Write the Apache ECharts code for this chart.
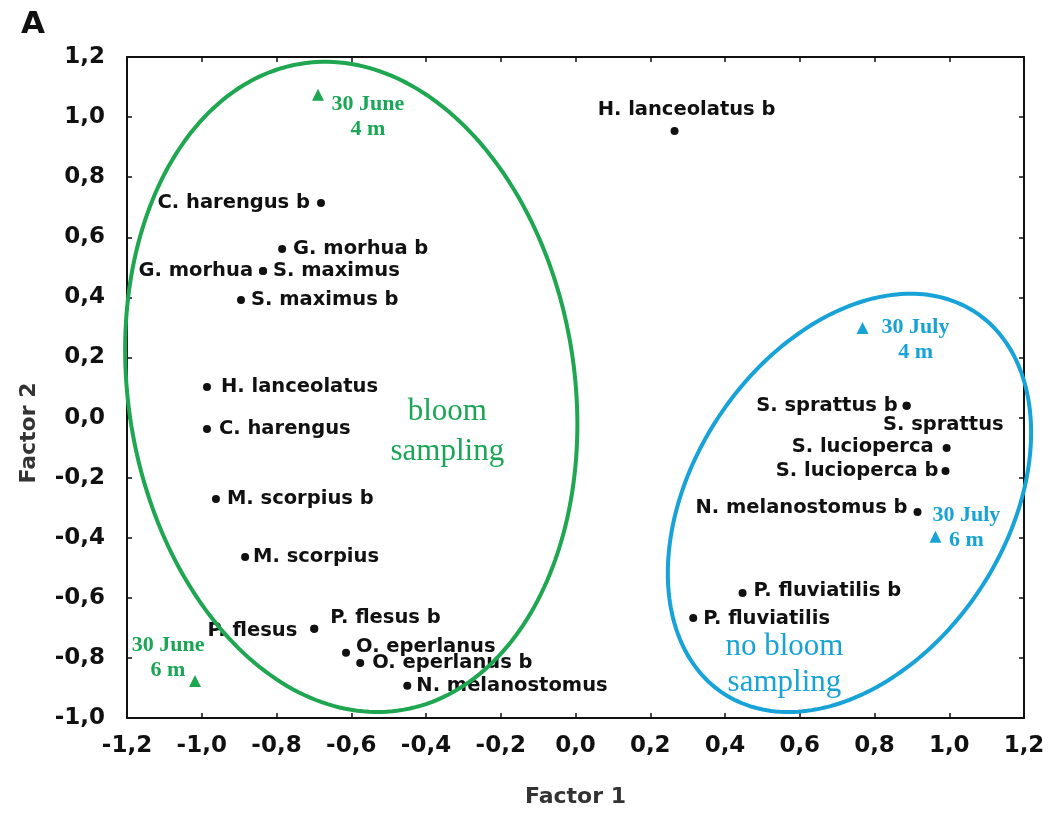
<!DOCTYPE html>
<html><head><meta charset="utf-8">
<script src="https://cdn.jsdelivr.net/npm/echarts@6/dist/echarts.min.js"></script>
<style>html,body{margin:0;padding:0;background:#fff}#c{width:1061px;height:814px}</style>
</head><body><div id="c"></div>
<script>
// ---- data ----
const speciesNames = ['H. lanceolatus b','C. harengus b','G. morhua b','G. morhua','S. maximus','S. maximus b',
  'H. lanceolatus','C. harengus','M. scorpius b','M. scorpius','P. flesus','P. flesus b','O. eperlanus',
  'O. eperlanus b','N. melanostomus','S. sprattus b','S. sprattus','S. lucioperca','S. lucioperca b',
  'N. melanostomus b','P. fluviatilis b','P. fluviatilis'];
const speciesF1 = [0.265,-0.681,-0.785,-0.836,-0.836,-0.895,-0.986,-0.986,-0.962,-0.884,-0.699,-0.699,-0.614,
  -0.576,-0.450,0.886,0.886,0.993,0.990,0.915,0.447,0.315];
const speciesF2 = [0.954,0.714,0.561,0.488,0.488,0.391,0.102,-0.038,-0.271,-0.464,-0.703,-0.703,-0.783,
  -0.817,-0.893,0.039,0.039,-0.101,-0.178,-0.314,-0.584,-0.667];

const sampleNames = ['30 June\n4 m','30 June\n6 m','30 July\n4 m','30 July\n6 m'];
const sampleF1 = [-0.689,-1.018,0.768,0.963];
const sampleF2 = [1.074,-0.877,0.298,-0.397];
const sampleGroup = [0,0,1,1];

const groupNames = ['bloom\nsampling','no bloom\nsampling'];
const groupLabelF1 = [-0.343,0.559];
const groupLabelF2 = [-0.048,-0.823];
const ellipseCenterF1 = [-0.600,0.733];
const ellipseCenterF2 = [0.102,-0.284];
const ellipseHalfWidth = [0.605,0.486];
const ellipseHalfHeight = [1.082,0.696];
const ellipseTilt = [-0.115,0.336];

const xMin = -1.2, xMax = 1.2, yMin = -1.0, yMax = 1.2, tickStep = 0.2;

// ---- styles ----
const groupColors = ['#1ea650','#17a2d8'];
const groupTextColors = ['#1ba556','#18a3d6'];
const SANS = 'DejaVu Sans';
const SERIF = 'Liberation Serif';
// [align, dx, dy] relative to dot centre (pixels)
const labelLayout = {
  'H. lanceolatus b':['center',12,-21],
  'C. harengus b':['right',-11,0],
  'G. morhua b':['left',11,0],
  'G. morhua':['right',-10,0],
  'S. maximus':['left',10,0],
  'S. maximus b':['left',10,0],
  'H. lanceolatus':['left',14,0],
  'C. harengus':['left',12,0],
  'M. scorpius b':['left',11,0],
  'M. scorpius':['left',8,0],
  'P. flesus':['right',-17,2],
  'P. flesus b':['left',16,-11],
  'O. eperlanus':['left',10,-6],
  'O. eperlanus b':['left',12,0],
  'N. melanostomus':['left',9,0],
  'S. sprattus b':['right',-9,0],
  'S. sprattus':['right',97,19],
  'S. lucioperca':['right',-13,-1],
  'S. lucioperca b':['right',-7,0],
  'N. melanostomus b':['right',-10,-4],
  'P. fluviatilis b':['left',11,-2],
  'P. fluviatilis':['left',10,1]
};
const sampleLabelOffset = [[50,22],[-27,-23],[53,12],[31,-9]];

const fmt = v => (Math.abs(v) < 1e-9 ? 0 : v).toFixed(1).replace('.', ',');

const speciesData = speciesNames.map((n,i) => {
  const L = labelLayout[n];
  return {name:n, value:[speciesF1[i],speciesF2[i]],
    label:{show:true, position:'inside', align:L[0], verticalAlign:'middle', offset:[L[1],L[2]],
      formatter:'{b}', color:'#111', fontFamily:SANS, fontWeight:'bold', fontSize:19.5}};
});
const sampleData = sampleNames.map((n,i) => ({name:n, value:[sampleF1[i],sampleF2[i]],
  itemStyle:{color:groupColors[sampleGroup[i]], opacity:1},
  label:{show:true, position:'inside', align:'center', verticalAlign:'middle', offset:sampleLabelOffset[i],
    formatter:'{b}', color:groupTextColors[sampleGroup[i]], fontFamily:SERIF, fontWeight:'bold', fontSize:22, lineHeight:25}}));
const groupData = groupNames.map((n,i) => ({name:n, value:[groupLabelF1[i],groupLabelF2[i]],
  label:{show:true, position:'inside', align:'center', verticalAlign:'middle',
    formatter:'{b}', color:groupTextColors[i], fontFamily:SERIF, fontSize:31, lineHeight:i===0?40:36}}));
const ellipseData = groupNames.map((n,i) => [ellipseCenterF1[i],ellipseCenterF2[i],ellipseHalfWidth[i],ellipseHalfHeight[i],ellipseTilt[i]]);

function renderEllipse(params, api) {
  const cx = api.value(0), cy = api.value(1), hw = api.value(2), hh = api.value(3), r = api.value(4);
  const s = Math.sqrt(1 - r*r);
  const pts = [];
  for (let k = 0; k < 240; k++) {
    const t = k / 240 * 2 * Math.PI;
    pts.push(api.coord([cx + hw*Math.cos(t), cy + hh*(r*Math.cos(t) + s*Math.sin(t))]));
  }
  return {type:'polygon', shape:{points:pts}, style:{fill:'none', stroke:groupColors[params.dataIndex], lineWidth:4}};
}

const axisLine = {show:true, onZero:false, lineStyle:{color:'#111', width:2}};
const axisTick = {show:true, inside:true, length:5, lineStyle:{color:'#111', width:1.5}};
const tickLabel = {fontFamily:SANS, fontWeight:'bold', fontSize:23, color:'#111', formatter:fmt};

const chart = echarts.init(document.getElementById('c'), null, {renderer:'canvas'});
chart.setOption({
  animation:false,
  backgroundColor:'#fff',
  title:{text:'A', left:16, top:4, textStyle:{fontFamily:SANS, fontWeight:'bold', fontSize:31, color:'#111'}},
  grid:{left:127, right:37, top:57, bottom:96},
  xAxis:[
    {type:'value', min:xMin, max:xMax, interval:tickStep, position:'bottom', axisLine, axisTick,
     splitLine:{show:false}, axisLabel:Object.assign({margin:17}, tickLabel),
     name:'Factor 1', nameLocation:'middle', nameGap:68,
     nameTextStyle:{fontFamily:SANS, fontWeight:'bold', fontSize:22, color:'#333'}},
    {type:'value', min:xMin, max:xMax, interval:tickStep, position:'top', axisLine, axisTick,
     splitLine:{show:false}, axisLabel:{show:false}}
  ],
  yAxis:[
    {type:'value', min:yMin, max:yMax, interval:tickStep, position:'left', axisLine, axisTick,
     splitLine:{show:false}, axisLabel:Object.assign({margin:22}, tickLabel)},
    {type:'value', min:yMin, max:yMax, interval:tickStep, position:'right', axisLine, axisTick,
     splitLine:{show:false}, axisLabel:{show:false}}
  ],
  graphic:[{type:'text', x:29, y:433, rotation:Math.PI/2,
    style:{text:'Factor 2', fontFamily:SANS, fontWeight:'bold', fontSize:22, fill:'#333', align:'center', verticalAlign:'middle'}}],
  series:[
    {type:'scatter', symbol:'circle', symbolSize:8, itemStyle:{color:'#111', opacity:1}, data:speciesData, z:2, silent:true},
    {type:'scatter', symbol:'triangle', symbolSize:12, itemStyle:{opacity:1}, data:sampleData, z:2, silent:true},
    {type:'scatter', symbolSize:0, itemStyle:{opacity:1}, data:groupData, z:2, silent:true},
    {type:'custom', renderItem:renderEllipse, data:ellipseData, z:3, silent:true,
     encode:{x:0, y:1}, clip:false}
  ]
});
</script></body></html>
